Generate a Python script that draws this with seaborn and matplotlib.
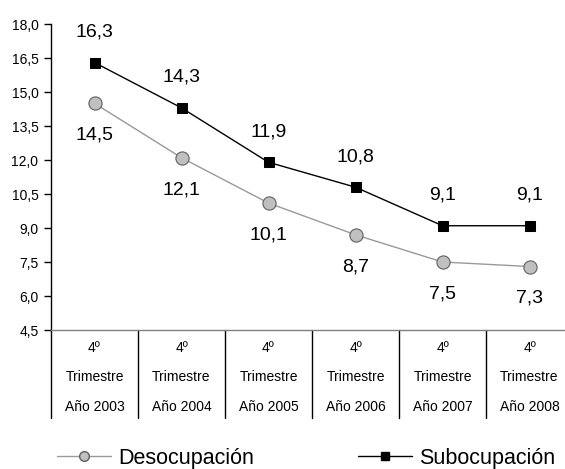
import matplotlib
matplotlib.use("Agg")
import matplotlib.pyplot as plt
import matplotlib.transforms as mtransforms
from matplotlib.lines import Line2D
import seaborn as sns
import pandas as pd

sns.set_style("white")
plt.rcParams['font.family'] = ['Liberation Sans', 'DejaVu Sans']
plt.rcParams['text.color'] = 'black'
plt.rcParams['ytick.color'] = 'black'
plt.rcParams['ytick.labelcolor'] = 'black'

row1 = ["4º"] * 6
row2 = ["Trimestre"] * 6
row3 = ["Año 2003", "Año 2004", "Año 2005", "Año 2006", "Año 2007", "Año 2008"]
desocupacion = [14.5, 12.1, 10.1, 8.7, 7.5, 7.3]
subocupacion = [16.3, 14.3, 11.9, 10.8, 9.1, 9.1]
yticks = [4.5, 6.0, 7.5, 9.0, 10.5, 12.0, 13.5, 15.0, 16.5, 18.0]

W, H = 565, 469
fig = plt.figure(figsize=(W / 100, H / 100), dpi=100)
left, right, top, bottom = 51, 573, 24, 330
ax = fig.add_axes([left / W, 1 - bottom / H, (right - left) / W, (bottom - top) / H])

pos = list(range(len(row3)))
df_d = pd.DataFrame({"x": pos, "y": desocupacion})
df_s = pd.DataFrame({"x": pos, "y": subocupacion})

sns.lineplot(data=df_d, x="x", y="y", ax=ax, color="#999999", lw=1, marker="o",
             markersize=9.5, markerfacecolor="#c0c0c0", markeredgecolor="#606060",
             markeredgewidth=0.8)
sns.lineplot(data=df_s, x="x", y="y", ax=ax, color="black", lw=1.0, marker="s",
             markersize=7, markerfacecolor="black", markeredgecolor="black")

ax.set_xlim(-0.5, 5.5)
ax.set_ylim(4.5, 18.0)
ax.set_yticks(yticks)
ax.set_yticklabels([f"{v:.1f}".replace(".", ",") for v in yticks], fontsize=10)
ax.set_xticks([])
ax.set_xlabel("")
ax.set_ylabel("")
ax.tick_params(axis="y", direction="out", length=5, width=1, color="black", pad=4, left=True)
for s in ["top", "right"]:
    ax.spines[s].set_visible(False)
ax.spines["left"].set_color("black")
ax.spines["bottom"].set_color("#808080")
ax.spines["left"].set_linewidth(1)
ax.spines["bottom"].set_linewidth(1)

def fmt(v):
    return f"{v:.1f}".replace(".", ",")

for x, v in zip(pos, subocupacion):
    ax.annotate(fmt(v), (x, v), xytext=(0, 22), textcoords="offset points",
                ha="center", va="center", fontsize=14, color="black")
for x, v in zip(pos, desocupacion):
    ax.annotate(fmt(v), (x, v), xytext=(0, -23), textcoords="offset points",
                ha="center", va="center", fontsize=14, color="black")

# category table under the axis
trans = mtransforms.blended_transform_factory(ax.transData, fig.transFigure)
def fy(py):
    return 1 - py / H
for b in [i - 0.5 for i in range(len(row3) + 1)]:
    ax.add_line(Line2D([b, b], [fy(bottom), fy(418)], transform=trans, color="black",
                       lw=1, clip_on=False))
for x in pos:
    ax.text(x, fy(348), row1[x], transform=trans, ha="center", va="center", fontsize=10)
    ax.text(x, fy(377), row2[x], transform=trans, ha="center", va="center", fontsize=10)
    ax.text(x, fy(407), row3[x], transform=trans, ha="center", va="center", fontsize=10)

h_d = Line2D([], [], color="#999999", lw=1, marker="o", markersize=7,
             markerfacecolor="#c0c0c0", markeredgecolor="#606060")
h_s = Line2D([], [], color="black", lw=1.0, marker="s", markersize=5.5,
             markerfacecolor="black")
common = dict(loc="center left", frameon=False, fontsize=15.5, handlelength=2.5,
              handletextpad=0.35, borderpad=0, borderaxespad=0)
leg1 = fig.legend([h_d], ["Desocupación"], bbox_to_anchor=(57 / W, fy(458)), **common)
leg2 = fig.legend([h_s], ["Subocupación"], bbox_to_anchor=(358 / W, fy(458)), **common)

fig.savefig("out.png", dpi=100)
